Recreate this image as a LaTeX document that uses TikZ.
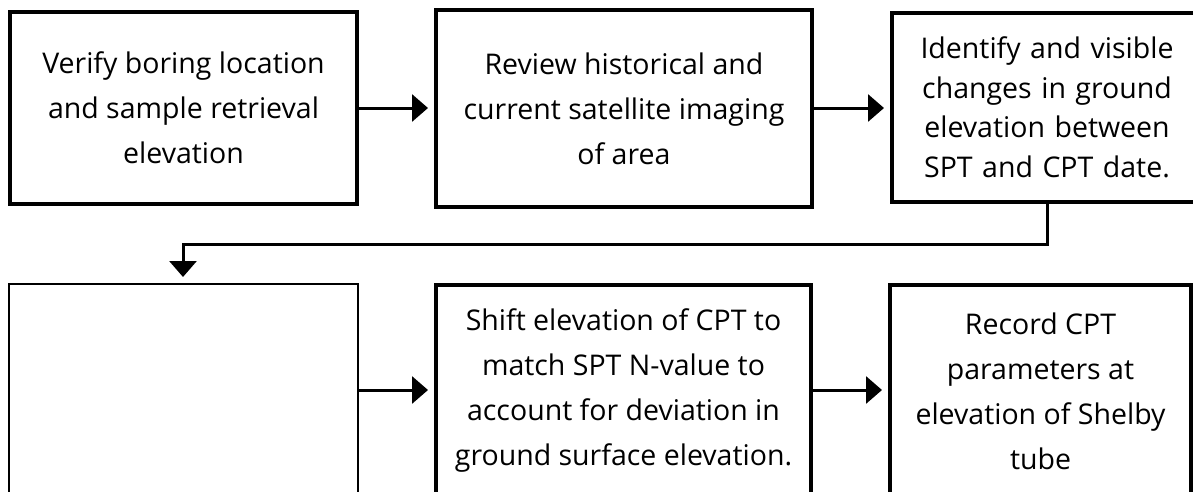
\documentclass[tikz,border=0pt]{standalone}
\usepackage{fontspec}
\setmainfont{Open Sans}
\usetikzlibrary{arrows.meta}
\begin{document}
\begin{tikzpicture}[x=1pt,y=-1pt,
  stepbox/.style={draw=black,line width=4pt,fill=white,inner sep=0pt,align=center,
    font=\fontsize{28.5}{45}\selectfont},
  thinbox/.style={stepbox,line width=2pt},
  flow/.style={line width=3pt,-{Triangle[length=16pt,width=27pt]},shorten >=6pt}]
\useasboundingbox (0,0) rectangle (1193,491);
\node[stepbox,minimum width=347pt,minimum height=192pt] (b1) at (183.5,108)
  {Verify boring location\\and sample retrieval\\elevation};
\node[stepbox,minimum width=376pt,minimum height=197pt] (b2) at (624,108.5)
  {Review historical and\\current satellite imaging\\of area};
\node[stepbox,minimum width=310pt,minimum height=189pt,font=\fontsize{28.5}{39.5}\selectfont,
  text width=298pt] (b3) at (1047,107.5)
  {Identify and visible\\changes in ground\\elevation between\\SPT and CPT date.};
\node[thinbox,minimum width=349pt,minimum height=212pt] (b4) at (183.5,390) {};
\node[stepbox,minimum width=375pt,minimum height=212pt] (b5) at (623.5,391)
  {Shift elevation of CPT to\\match SPT N-value to\\account for deviation in\\ground surface elevation.};
\node[stepbox,minimum width=301pt,minimum height=212pt] (b6) at (1040.5,391)
  {Record CPT\\parameters at\\elevation of Shelby\\tube};
\coordinate (c1) at (1047,244);
\coordinate (c2) at (183,244);
\draw[flow] (b1.east |- 0,108) -- (b2.west |- 0,108);
\draw[flow] (b2.east |- 0,108) -- (b3.west |- 0,108);
\draw[flow] (b3.south -| c1) -- (c1) -- (c2) -- (c2 |- b4.north);
\draw[flow] (b4.east |- 0,390) -- (b5.west |- 0,390);
\draw[flow] (b5.east |- 0,390) -- (b6.west |- 0,390);
\end{tikzpicture}
\end{document}
